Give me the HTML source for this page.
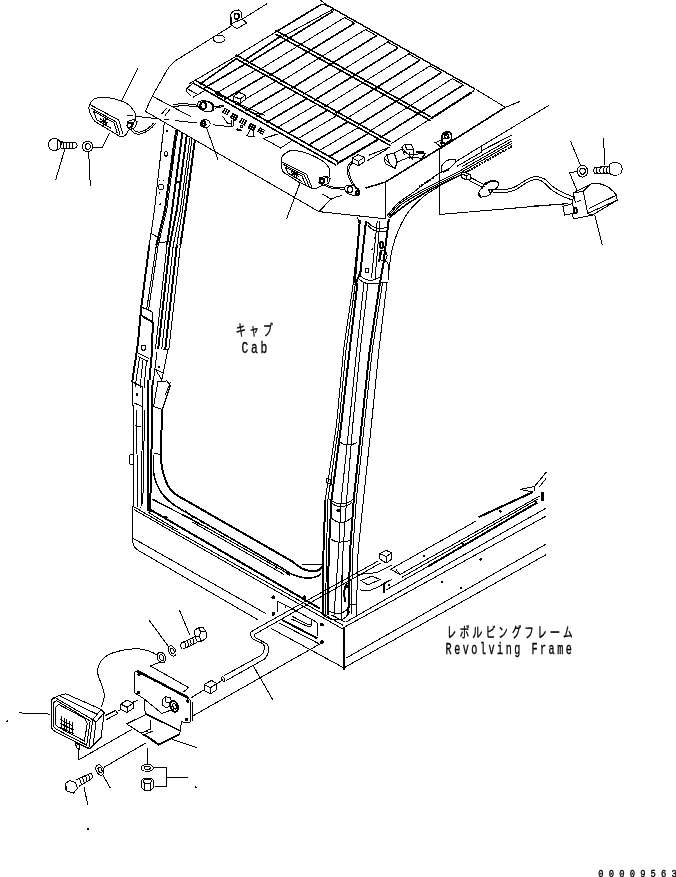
<!DOCTYPE html>
<html lang="ja"><head><meta charset="utf-8"><title>Cab lamp wiring diagram</title>
<style>
html,body{margin:0;padding:0;background:#fff;}
body{width:676px;height:877px;overflow:hidden;}
svg{display:block;will-change:transform;}
svg text{fill:#000;}
.lbl{font-family:"Liberation Mono","IPAGothic",monospace;}
.jp{font-family:"Liberation Mono","IPAGothic","Noto Sans CJK JP",monospace;}
</style></head><body>
<svg width="676" height="877" viewBox="0 0 676 877" shape-rendering="crispEdges">
<rect x="0" y="0" width="676" height="877" fill="#fff" stroke="none"/>
<g fill="none" stroke="#000" stroke-width="1">
<!-- left roof lamp, bolt, washer -->
<polyline points="137.7,68.3 121.8,100.4"/>
<path d="M89.7,104.5 C91,100.5 94,98.5 98,97.6 C103,96.4 110,97 122.8,101.4 C128,103.5 131,106.5 133.5,110.5 C135.5,113.5 136.3,116 135.6,118.5 L134.2,121.5 L126,134.5 C124.5,136.3 122,136.8 119.7,136.2 L111.4,131.4 L95.9,122.1 C93,120 91.5,117 90,113 C88.6,109.5 88.5,107 89.7,104.5 Z"/>
<polyline points="89.7,104.5 118.7,120 122.8,133.5"/>
<polyline points="91.2,108.2 116,121.8 120,134.5"/>
<polyline points="93.5,111 113.8,122.6 117.2,133"/>
<polyline points="93.5,111 96.5,119.5 111.4,128.5"/>
<polyline points="100,118.5 107,124.5"/>
<polyline points="100,123 107,119.5"/>
<polyline points="103,117.5 103,125.5"/>
<polyline points="105,118 105,126"/>
<polyline points="99.5,121 108,122.5"/>
<path d="M127.5,121.5 L134,119.5 L137,121.5 L135.5,127.5 L129.5,129.5 L127,126 Z"/>
<polyline points="129.5,123.5 133.5,122.5 132.5,127.5"/>
<ellipse cx="129.3" cy="125.5" rx="2.2" ry="2.6" stroke-width="1.2"/>
<path d="M131,129.5 C133,133.5 137,135 142,133.5 C148,131.5 152,128 155.5,123.5"/>
<path d="M132.5,128 C134.5,131.5 138,132.8 142,131.6 C147,129.8 150.5,127 153.8,122.8"/>
<path d="M60.3,141.8 L58,139.3 C55,138 51.5,138.3 49.8,140.8 C48,143.5 48.2,147 50.2,149 C52,150.5 55.5,150.6 58,149.5 L60.3,148 Z"/>
<polyline points="57.5,139.5 57.5,149.5"/>
<polyline points="60.3,141.8 75.5,142.8"/>
<polyline points="60.3,148 75,148.2"/>
<path d="M75.5,142.8 C77.5,143.5 78,146.5 75,148.2"/>
<path d="M62.2,142.2 C64.4,143.5 64.60000000000001,146.5 62.800000000000004,148.1"/>
<path d="M65.2,142.2 C67.4,143.5 67.60000000000001,146.5 65.8,148.1"/>
<path d="M68.2,142.2 C70.4,143.5 70.60000000000001,146.5 68.8,148.1"/>
<path d="M71.2,142.2 C73.4,143.5 73.60000000000001,146.5 71.8,148.1"/>
<polyline points="58.5,139.6 61.5,141.9 60.6,148.5"/>
<polyline points="64.8,149 55.5,180.5"/>
<ellipse cx="87.6" cy="146.5" rx="5.2" ry="5.4"/>
<ellipse cx="87.8" cy="146.5" rx="2.6" ry="2.8"/>
<polyline points="92.8,147.4 102.1,148 109.4,132.9"/>
<polyline points="88.7,152.1 90.3,185.7"/>
<!-- roof outline -->
<path d="M267.2,3.6 L175.5,60.7 C170,64.5 166,71 162.2,78.8 L152.3,96 L145.4,111.3"/>
<polyline points="145.4,111.3 318.8,211.6"/>
<polyline points="318.8,211.6 385.4,218.8"/>
<path d="M318.8,211.6 L331,199.2 C335,197 338,196.3 342.1,195.5"/>
<polyline points="152.3,96.2 191,116.6"/>
<polyline points="161.5,114.3 166.6,108.1"/>
<polyline points="164.9,115.5 170,109.5"/>
<polyline points="385.4,182.1 385.4,218.8" stroke-width="1.6"/>
<polyline points="365.4,188.1 385.4,182.1" stroke-width="1.6"/>
<polyline points="385.4,182.1 439.5,148.5" stroke-width="1.6"/>
<polyline points="437,150.5 505.4,107.3" stroke-width="1.6"/>
<polyline points="505.4,107.3 519.8,101.5"/>
<polyline points="476,89.5 505.4,107.3"/>
<ellipse cx="219.2" cy="38.8" rx="5.9" ry="3.8"/>
<path d="M230.3,24.4 L230.3,16.3 C230.5,13.5 232,11.8 234,11.1 C235.5,10.2 237,9.9 238.5,10 C240.3,10.5 241.2,11.8 241.4,13.3 L242.2,19.2 L246.6,22.9 L237,28.8 Z" fill="#fff"/>
<polyline points="231.8,24.6 231.8,16.8"/>
<polyline points="230.3,24.4 241.4,19.2"/>
<ellipse cx="236.7" cy="16.3" rx="2.4" ry="2.8" stroke-width="1.6"/>
<!-- roof slat panel -->
<polyline points="189.3,83.7 235.5,56.6 275.4,32.2"/>
<polyline points="275.4,32.2 321,4.6" stroke-width="1.6"/>
<path d="M321.0,4.6 Q322.4,3.6 328.7,6.1" stroke-width="1.6"/>
<polyline points="328.7,6.1 473.7,88.2" stroke-width="1.4"/>
<path d="M473.7,88.2 Q476,89.5 471.5,92.4"/>
<polyline points="471.5,92.4 430.6,118.8" stroke-width="2"/>
<polyline points="430.6,118.8 390.7,144"/>
<polyline points="378,139.5 337,163.7" stroke-width="2"/>
<polyline points="369.2,155.1 390,147"/>
<polyline points="367.3,160.8 388,148.5"/>
<polyline points="320,0 327.7,5.5"/>
<polyline points="235.5,54.6 390.7,142" stroke-width="1.6"/>
<polyline points="235.5,58.4 390.7,145.8" stroke-width="1.6"/>
<polyline points="275.4,30.2 430.6,116.8" stroke-width="1.6"/>
<polyline points="275.4,34 430.6,120.6" stroke-width="1.6"/>
<polyline points="195,80 338,161.5" stroke-width="1.6"/>
<polyline points="192.5,82.7 336,165" stroke-width="1.6"/>
<polyline points="203.7,88.4 246.8,63.1" stroke-width="1.6"/>
<polyline points="247.8,63.5 287.7,39 333.3,11.2" stroke-width="1.6"/>
<polyline points="224.2,99.6 266.6,74.7" stroke-width="1.6"/>
<polyline points="269.3,75.7 309.2,51.1 354.5,23.2" stroke-width="1.6"/>
<polyline points="245.4,111.1 287.1,86.6" stroke-width="1.6"/>
<polyline points="291.7,88.2 331.6,63.5 376.5,35.7" stroke-width="1.6"/>
<polyline points="266.4,122.5 307.3,98.4" stroke-width="1.6"/>
<polyline points="313.7,100.6 353.6,75.8 398.2,48" stroke-width="1.6"/>
<polyline points="287.3,133.9 327.6,110.2" stroke-width="1.6"/>
<polyline points="335.8,113.1 375.7,88.1 419.9,60.2" stroke-width="1.6"/>
<polyline points="308.2,145.3 347.8,121.9" stroke-width="1.6"/>
<polyline points="357.8,125.5 397.7,100.4 441.6,72.5" stroke-width="1.6"/>
<polyline points="329.1,156.6 368,133.7" stroke-width="1.6"/>
<polyline points="379.8,137.9 419.7,112.7 463.3,84.8" stroke-width="1.6"/>
<polyline points="199.8,84.2 237.6,57.8" stroke-width="1.6"/>
<polyline points="243.3,61 281.6,35.7" stroke-width="1.6"/>
<polyline points="214.5,94.3 257.2,69.2"/>
<polyline points="259.1,69.9 299,45.4 345.4,17"/>
<polyline points="234.8,105.3 276.8,80.6"/>
<polyline points="280.5,81.9 320.4,57.3 366.5,28.9"/>
<polyline points="256.2,116.9 297.5,92.7"/>
<polyline points="303,94.6 342.9,69.9 388.6,41.4"/>
<polyline points="276.5,128 317.2,104.1"/>
<polyline points="324.4,106.7 364.3,81.8 409.7,53.3"/>
<polyline points="297,139.2 337,115.6"/>
<polyline points="346,118.8 385.9,93.9 430.9,65.3"/>
<polyline points="318.7,150.9 357.9,127.8"/>
<polyline points="368.8,131.7 408.7,106.6 453.3,78"/>
<polyline points="344.5,17.5 354.5,23.2"/>
<polyline points="365.5,29.5 376.5,35.7"/>
<polyline points="387.7,42 398.2,48"/>
<polyline points="408.7,53.9 419.9,60.2"/>
<polyline points="430,65.9 441.6,72.5"/>
<polyline points="452.4,78.6 463.3,84.8"/>
<polyline points="332.9,9.3 333.3,11.2"/>
<polyline points="332.9,9.3 282.8,36.4"/>
<!-- panel front-left cap and lip -->
<path d="M193.5,82.6 L186.8,88.5 C185.5,90 186,91.5 187.6,92.2 L190.5,95.9"/>
<polyline points="192.8,97.4 204.6,90.7"/>
<polyline points="186.8,88.5 197,94"/>
<polyline points="215,92.2 222.3,95.9"/>
<polyline points="216.5,94.5 223,97.5"/>
<polyline points="214,90.5 221,93.5"/>
<polyline points="240,104.4 265,115.5"/>
<polyline points="255.4,113.2 263.5,115.2"/>
<polyline points="277.7,134 263.7,138.5 280.7,148.1 291.8,140.7"/>
<!-- cube 1 -->
<path d="M233.4,96.4 L239,92.3 L245.4,95.2 L245.4,99.5 L240,103.3 L233.4,100.7 Z" fill="#fff"/>
<polyline points="233.4,96.4 240,99 245.4,95.2"/>
<polyline points="240,99 240,103.3"/>
<polyline points="231,102 233.4,100.7"/>
<!-- grommets on front face -->
<ellipse cx="205.6" cy="106.2" rx="8.5" ry="5" transform="rotate(20 205.6 106.2)"/>
<ellipse cx="203.3" cy="105.6" rx="3" ry="3.6" stroke-width="2"/>
<path d="M208,101.5 C212,102.5 214.5,106 213,110.5" stroke-width="2"/>
<polyline points="172.8,105 182.2,103.3 197.2,105.2"/>
<polyline points="173.5,107 182.2,105.3 197.9,107"/>
<polyline points="214.2,107 223.8,105.2"/>
<polyline points="214.5,108.3 224,106.5"/>
<ellipse cx="205.3" cy="123.6" rx="4.9" ry="3.9"/>
<ellipse cx="203.3" cy="123.4" rx="2" ry="2.4" stroke-width="2"/>
<polyline points="206.8,128.4 218.1,160.3"/>
<polyline points="136.3,116.4 233.4,127" stroke-dasharray="23 5 4.5 6"/>
<polyline points="126.7,115.4 132.6,116"/>
<!-- decals -->
<polyline points="224.4,108 230,111.2"/>
<polyline points="223.3,109.9 228.9,113.1"/>
<polyline points="222.2,111.8 227.8,115"/>
<polyline points="225.1,107.9 222.7,112.5"/>
<polyline points="227.3,109.2 224.9,113.8"/>
<polyline points="229.5,110.5 227.1,115.1"/>
<polyline points="232.4,113.4 238,116.6" stroke-width="1.7"/>
<polyline points="231.3,115.3 236.9,118.5" stroke-width="1.7"/>
<polyline points="230.2,117.2 235.8,120.4" stroke-width="1.7"/>
<polyline points="233.1,113.3 230.7,117.9" stroke-width="1.7"/>
<polyline points="235.3,114.6 232.9,119.2" stroke-width="1.7"/>
<polyline points="237.5,115.9 235.1,120.5" stroke-width="1.7"/>
<polyline points="241.4,118.1 247,121.3"/>
<polyline points="240.3,120 245.9,123.2"/>
<polyline points="239.2,121.9 244.8,125.1"/>
<polyline points="242.1,118 239.7,122.6"/>
<polyline points="244.3,119.3 241.9,123.9"/>
<polyline points="246.5,120.6 244.1,125.2"/>
<polyline points="250.3,123.5 255.9,126.7" stroke-width="1.7"/>
<polyline points="249.2,125.4 254.8,128.6" stroke-width="1.7"/>
<polyline points="248.1,127.3 253.7,130.5" stroke-width="1.7"/>
<polyline points="251,123.4 248.6,128" stroke-width="1.7"/>
<polyline points="253.2,124.7 250.8,129.3" stroke-width="1.7"/>
<polyline points="255.4,126 253,130.6" stroke-width="1.7"/>
<polyline points="259.6,127.5 265.2,130.7"/>
<polyline points="258.5,129.4 264.1,132.6"/>
<polyline points="257.4,131.3 263,134.5"/>
<polyline points="260.3,127.4 257.9,132"/>
<polyline points="262.5,128.7 260.1,133.3"/>
<polyline points="264.7,130 262.3,134.6"/>
<polyline points="222.3,115.9 227.5,123.3 230.5,123.3"/>
<polyline points="231.5,119.6 231.5,126.2"/>
<polyline points="233,119.6 233,126.2"/>
<polyline points="236.4,129.2 241.6,130.6" stroke-width="2"/>
<ellipse cx="241.5" cy="126.5" rx="1.2" ry="1.2"/>
<path d="M246,135 C249,137 252,137.3 255,136.6"/>
<polyline points="250,130 247.5,135.5"/>
<polyline points="253,131 254,136.5"/>
<!-- center roof lamp -->
<path d="M281.1,161.1 C281.5,157 283,154.5 285.5,153.3 C288,151 291,150.2 294.4,150.4 C300,150.8 305,152.3 310,154.4 C316,157 322,160 325.5,163.3 C328.5,166.5 330.3,170 330,173.3 L328.8,177.7 C326,182 322,186.5 315.5,188.8 L311,188.1 L298.8,182.1 L283.3,172.2 C281.5,169 280.8,165 281.1,161.1 Z" fill="#fff"/>
<polyline points="281.1,161.6 306.6,174.4 312.2,188.1"/>
<polyline points="283.5,164.5 304.5,175.4 309.5,187.3"/>
<path d="M285.5,167 L302,176 L306,185.5 M285.5,167 L287.5,172.8 L302,181.5"/>
<polyline points="291,170.5 299,176.5"/>
<polyline points="291.5,175 298.5,171.5"/>
<polyline points="294,169.5 294,177"/>
<polyline points="296.5,171 296.5,178.5"/>
<polyline points="290.5,172.7 300,175"/>
<path d="M319.5,178 L326,176 L330,178.5 L328.5,183.5 L322.5,185.5 L319,182.5 Z" fill="#fff"/>
<ellipse cx="322" cy="181.2" rx="2" ry="2.4" stroke-width="2"/>
<polyline points="323.5,178.3 327.5,177.3 328,182"/>
<polyline points="322.1,193.9 330.5,198.8"/>
<polyline points="300,182.8 286.6,218.8"/>
<path d="M324.4,185 C328,187.5 332,188.8 337,188.9 L345.4,189.2"/>
<path d="M326.5,184.5 C329,186.3 333,187.4 337,187.5 L345.4,187.8"/>
<ellipse cx="352.3" cy="190.4" rx="8" ry="4.6" transform="rotate(22 352.3 190.4)"/>
<ellipse cx="350" cy="189.5" rx="2.6" ry="3"/>
<path d="M355.5,187.5 C359,189 360,192.5 357.6,195.2" stroke-width="2"/>
<ellipse cx="357.3" cy="193" rx="1.5" ry="2.2" stroke-width="2"/>
<path d="M353.2,186.4 C351.5,182 348.5,178 347.7,174 C347,170 347,167.5 348.5,165 C349.8,163 351.5,161.8 353.2,161"/>
<path d="M354.8,186.2 C353,182 350,178 349.2,174 C348.6,170 348.6,168 350,165.8 C351,164.2 352.5,163 354,162.3"/>
<!-- cube 2 -->
<path d="M352.2,158.3 L358,154.6 L364.2,157.3 L364.2,161.8 L358.6,165.6 L352.2,162.8 Z" fill="#fff"/>
<polyline points="352.2,158.3 358.6,161.2 364.2,157.3"/>
<polyline points="358.6,161.2 358.6,165.6"/>
<!-- horn -->
<path d="M384.2,158.3 L386.8,154.6 L394.2,153.1 L397.2,162 L395,168.6 L385.4,163.5 Z" fill="#fff"/>
<polyline points="386.8,154.6 389.5,163.5 395,168.6"/>
<polyline points="389.5,163.5 384.2,158.3"/>
<polyline points="394.2,153.1 402.4,148.7"/>
<polyline points="397.2,162 410.5,156.8"/>
<path d="M401.6,147.2 L404.6,144.5 L411.2,144.5 L413.5,149.4 L412.7,159.8 L410.5,156.8 Z" fill="#fff"/>
<polyline points="401.6,147.2 404.5,155.5"/>
<polyline points="403.8,151.6 409.5,154.6 413,154.6"/>
<polyline points="409.5,151.5 409.5,158.5"/>
<polyline points="404.6,144.5 407,149.5 413.5,149.4"/>
<polyline points="415.7,151.6 423.8,151.6" stroke-width="2"/>
<polyline points="412.7,154.6 426,153.1 421.6,158.3 412.7,157.2"/>
<!-- hook 2 -->
<path d="M435.4,142.6 L440.8,147 L452.4,139.6 L448.5,136.6 Z" fill="#fff"/>
<path d="M441.2,143.5 L441.6,137 C442.5,133.8 444.5,132 447.2,131.6 C449.5,131.8 451,133 451.3,135 L451.6,139.2 L446,143.6 Z" stroke-width="1.6" fill="#fff"/>
<ellipse cx="446.5" cy="136.2" rx="2.2" ry="2.4" stroke-width="1.6"/>
<polyline points="441.2,146.6 443,137.5" stroke-width="1.6"/>
<polyline points="439.5,140.5 447,143.8"/>
<polyline points="443.6,134 449.8,137.6"/>
<!-- right side face -->
<path d="M548.7,105.5 L474.9,150 L455.7,161.8 C448,167 441,172 435,176 C428,181 421,186.5 414.4,191.5 C409,195.5 404,198.5 399.6,201.8 C396.5,204.5 394,207 392.2,209.5 L387,215.9"/>
<path d="M441.8,172 L441.1,166.8 C443,163.5 445.5,161 447.8,160.1 L455.1,159.1 L455.9,162.3 C453,165.5 449,169 444.5,171.8 Z" fill="#fff"/>
<polyline points="442.5,172.2 449.2,169.2" stroke-width="2"/>
<polyline points="512.1,135 481.8,150.5"/>
<polyline points="481.8,146.8 481.8,152.2"/>
<polyline points="481.8,152 457,166.3"/>
<polyline points="511.4,138.7 462,166.5"/>
<path d="M512.1,140.9 L458.8,171.5 C445,178.5 431,185 418.8,191.8 C411,196.3 405,199.8 400,203.3 C397,205.8 394.8,208.3 393,210.8 L388,217"/>
<path d="M512.1,143.2 L460,173 C446,180 432,186.5 420,193.3 C412,197.8 406,201.3 401,204.8 C398,207.3 395.8,209.8 394,212 L389,218"/>
<polyline points="512,146.2 470,170" stroke-width="2" stroke-dasharray="2 1"/>
<path d="M470,170 L458.8,175.8 L429.2,190.2 L408.5,203 L396.6,211.8 L389.2,217.8" stroke-width="1.6"/>
<polyline points="419,187 433.5,177.5" stroke-width="2" stroke-dasharray="2 1"/>
<path d="M441,185.5 L429.2,192.3 C424.5,195.5 420.5,199 417.3,202.1 C414,205 411,208.5 408.5,211.8 C405.5,216 403,220 401.1,224.3 C398.5,229.5 396.5,234.5 395.1,239.1 C393,245 391.6,251 390.7,256.8 C389.5,264 388.8,270 388.3,277.5"/>
<polyline points="439.2,149.8 439.2,214.5 563.7,203.9"/>
<polyline points="530,206.3 568.2,203.7"/>
<!-- connector + grommet right -->
<path d="M461,173.4 L462.5,171.8 L470,174.2 L470,179.3 L466.2,180 L461,177.1 Z" fill="#fff"/>
<polyline points="461,173.4 466.2,175.8 470,174.2"/>
<polyline points="466.2,175.8 466.2,180"/>
<polyline points="470.5,177.5 483.4,184.1"/>
<polyline points="469,180.5 481.6,186.7"/>
<path d="M481.6,188 L484.3,184 L490.5,181.4 L495.8,181 C498,181.8 498.8,183 498.5,184.5 C498,186.5 497.5,187.5 496.7,188 L492,190.5 L491.4,191.6 C491,193.5 490,194.8 488.7,195.6 L480.7,197.4 C479,197 478.3,195.5 478.5,193.4 C479,191 480,189.3 481.6,188 Z" fill="#fff"/>
<polyline points="484.3,184 490.5,181.4 495.8,181" stroke-width="2"/>
<polyline points="481.8,188.5 486.5,183.5" stroke-width="2" stroke-dasharray="1.5 1"/>
<polyline points="479,193.5 480.8,197" stroke-width="1.6"/>
<polyline points="488.5,189.2 492,190.5"/>
<polyline points="488.5,189.2 490,193"/>
<path d="M491,189 C500,190.5 508,189.5 513.2,187.6 C520,185 524,180 531,177.6 C536,176 540,176.3 544.2,178.8 C548,181 550,184 553.1,186.8 C559,191 566,194 572.6,196.6"/>
<path d="M491.8,191.8 C500,194 508,192.5 514,190.4 C521,187.5 525,182.5 532,180.2 C536,179 539,179.3 542.5,181.5 C546,184 548,187 551.5,189.8 C557,194 565,197.5 571.5,199.8"/>
<!-- right lamp -->
<polyline points="570.5,141 580.6,165.5"/>
<polyline points="603.7,138 604.6,165.5"/>
<ellipse cx="582.4" cy="171.2" rx="5.3" ry="5.9"/>
<ellipse cx="582.6" cy="171.2" rx="2.7" ry="3.1"/>
<path d="M609.9,166.4 L609.9,173.5 L595,173.5 C593.3,172.5 593.3,168.3 595,167.3 Z"/>
<path d="M598.0999999999999,167 C595.6999999999999,168.5 595.6999999999999,172 597.6999999999999,173.5"/>
<path d="M601.5999999999999,167 C599.1999999999999,168.5 599.1999999999999,172 601.1999999999999,173.5"/>
<path d="M605.0999999999999,167 C602.6999999999999,168.5 602.6999999999999,172 604.6999999999999,173.5"/>
<path d="M608.3,167 C605.9,168.5 605.9,172 607.9,173.5"/>
<path d="M609.9,164.2 C612,162.3 616,161.8 619,163.3 C622,165 623,169 621.5,172 C620,174.8 616,175.6 613,175 C611.5,174.7 610.5,174.3 609.9,173.5 Z"/>
<polyline points="577,171.7 569.4,172.6 577,190.4"/>
<path d="M573.5,193 L583.3,191.2 L590.4,184.1 C594,183.2 598,183.2 601,184.1 C604,185 607,186.3 609,187.7 C612,190 614.5,192.3 616.1,194.8 L617.3,200.1 L592.1,215.2 L573.5,218.8 L572,213.4 Z" fill="#fff"/>
<polyline points="583.3,191.2 587.7,213.4 617.3,200.1"/>
<polyline points="588.6,208.6 616.1,195.3"/>
<polyline points="587.7,213.4 592.1,215.2"/>
<polyline points="573.5,193 575.5,203"/>
<polyline points="573.5,193 590.4,184.1"/>
<path d="M562.8,206.3 L572.6,203.7 L574,213 L564.6,215.2 Z" fill="#fff"/>
<ellipse cx="575.3" cy="210.8" rx="1.6" ry="2.6" stroke-width="2"/>
<polyline points="577,201.9 580.6,200.1"/>
<polyline points="594.8,215.4 602.4,245.4"/>
<!-- left front pillar -->
<polyline points="164.3,122.2 162.3,140 154.5,210 149.3,245"/>
<polyline points="149.3,245 141.3,307.1 137.8,344.4 132.2,381.8" stroke-width="2"/>
<polyline points="176.3,130 174.7,140 164.9,210 156.4,245" stroke-width="2"/>
<polyline points="156.4,245 146.6,309.8"/>
<polyline points="178,130.5 176.2,140 166.7,210 158.2,245 148.4,311"/>
<polyline points="182.4,132.8 181.4,140 172.1,210 167,245" stroke-width="2"/>
<polyline points="167,245 155.5,349"/>
<polyline points="186.7,135.3 186.1,140 176.8,210 169.7,245 158.2,349" stroke-width="2"/>
<polyline points="190.1,137.2 189.7,140 180.4,210 173.3,245 161.8,349"/>
<polyline points="192.1,138.4 191.8,140 182.5,210 176.8,245"/>
<polyline points="176.8,245 165.3,349" stroke-width="2"/>
<polyline points="195.1,140.1 194.9,140 185.6,210 180.4,245" stroke-width="2"/>
<polyline points="180.4,245 168.9,349"/>
<polyline points="175.7,181.4 179.9,182.5" stroke-width="2"/>
<circle cx="166.9" cy="131.3" r="1" fill="#000" stroke="none"/>
<ellipse cx="166" cy="153.8" rx="1.3" ry="2.4"/>
<ellipse cx="161.1" cy="187" rx="2.6" ry="3"/>
<circle cx="160.2" cy="204.4" r="1" fill="#000" stroke="none"/>
<polyline points="159.5,180.5 160.5,181.5"/>
<polyline points="163.3,181.3 164,180.3"/>
<polyline points="159,192.5 160,193.5"/>
<polyline points="150.4,232.8 157.5,237.3 156.5,246"/>
<polyline points="159.3,242.6 167.3,241.7"/>
<polyline points="141.3,307.1 152,311.6 152.8,322.2"/>
<polyline points="142.2,316 152.8,322.2" stroke-width="2"/>
<polyline points="152.8,322.2 152,351.5 149.5,380" stroke-width="2"/>
<polyline points="141,318 137.8,344.4"/>
<ellipse cx="143.6" cy="347.6" rx="2.4" ry="2.6"/>
<polyline points="138.6,353.3 149.3,358.6"/>
<polyline points="138.3,356.8 148.5,361.5"/>
<polyline points="139.5,358 135.1,387"/>
<polyline points="143,360 140,388"/>
<polyline points="146.5,361 144,388"/>
<polyline points="162.6,349.7 168,349.7 161.7,380 155.5,369.3"/>
<polyline points="155.5,369.3 162.6,372.8"/>
<circle cx="159" cy="367" r="1" fill="#000" stroke="none"/>
<polyline points="157,352 153.5,380"/>
<path d="M132.2,381.8 L132.2,403 L134,408.4 L133,433.3 L133,506"/>
<polyline points="132.2,381.8 142.8,387.1 142.8,406.6 134,403"/>
<circle cx="137" cy="394.6" r="1.5" fill="#000" stroke="none"/>
<polyline points="129.9,454.6 129.9,464.3"/>
<polyline points="129.9,454.6 133,454.6"/>
<polyline points="129.9,464.3 133,464.3"/>
<polyline points="136.6,410.2 137.5,507"/>
<polyline points="142.8,406.6 141,507.8"/>
<polyline points="144.6,410.2 142.8,504.3"/>
<polyline points="148.2,380 148.2,511.4" stroke-width="2"/>
<polyline points="152.6,380 151.2,468.8 150,512" stroke-width="2"/>
<polyline points="134.9,425.3 141,427"/>
<polyline points="153.5,452.8 160.6,454.6"/>
<path d="M157.9,381.8 L166.8,380.9 L170.4,385.3 L162.4,409.3 L153.5,406.6 Z"/>
<polyline points="170.6,381.7 165.3,395"/>
<!-- door opening curves -->
<path d="M162.4,409.3 L160.6,451 C160.8,460 161.5,466 163,472 C164.5,478 166,482 168,486 C171,491 176,495.5 184,499.3 L293.1,561.9 C297,565.5 301,568.3 305.1,569.8 C309,571 313.5,571.3 317.1,570.6 C320,569.5 321.8,567.8 322.4,565.8" stroke-width="2"/>
<path d="M153.5,454.6 L153.5,472 C154.5,478 155.5,482 157.9,486.5 C160.5,492 164,496.5 168.6,500.7 C173,504.5 179,508.5 186.6,512.6 L285.1,569.8 C289,573 294,575.5 298.4,576.5 C303,577.8 308,578.3 311.8,577.8 C316,577 319.5,575.7 321.1,573.8" stroke-width="1.6"/>
<polyline points="301.8,564.4 322.5,564.4"/>
<polyline points="275,566.5 277,568.5" stroke-width="1.6"/>
<polyline points="286.5,573 290,575.5" stroke-width="1.6"/>
<!-- sill -->
<polyline points="152.6,498.9 202.3,525.6"/>
<polyline points="149.8,509.5 160,515.3 319.7,608.4" stroke-width="2"/>
<polyline points="151.9,499.3 192,519.3 288,573.5"/>
<polyline points="192,521.8 284,574.5"/>
<polyline points="148.2,512.3 177.5,530"/>
<circle cx="165.9" cy="517.6" r="1.8" fill="#000" stroke="none"/>
<polyline points="185,510.7 193.3,518"/>
<polyline points="201.6,522.1 204.7,524.2"/>
<!-- cab floor frame left face -->
<path d="M132.9,506.2 L132.9,541.8 C133,546 135,548.5 138.5,550.5 L258.1,619.9"/>
<polyline points="132.9,506.2 160,522 325,615 343.5,625.5"/>
<polyline points="134.3,509.8 343.5,629.5"/>
<polyline points="132.9,538.2 266.1,613.7"/>
<polyline points="271,628.4 343.5,667.7"/>
<polyline points="344.2,627.3 344.2,670" stroke-width="2"/>
<polyline points="345.6,622.2 546.4,507.9"/>
<polyline points="344.2,627.3 546.4,515.9"/>
<polyline points="345.6,658.4 546.4,543.9"/>
<polyline points="344.2,667.7 546.4,554.5"/>
<polyline points="345.6,622.2 331.5,615"/>
<!-- plate on frame face -->
<circle cx="273.3" cy="597.2" r="1.9" fill="#000" stroke="none"/>
<circle cx="273.3" cy="614" r="1.9" fill="#000" stroke="none"/>
<circle cx="321.9" cy="624.7" r="1.9" fill="#000" stroke="none"/>
<circle cx="321.9" cy="642.2" r="1.9" fill="#000" stroke="none"/>
<circle cx="304.6" cy="597.2" r="1.9" fill="#000" stroke="none"/>
<path d="M277.3,612.3 L277.3,601 L285.3,605 L313.3,620.3 C316,621.5 317.5,623 317.9,624.9 L317.9,636.3"/>
<polyline points="285.3,605 285.3,607.6"/>
<polyline points="292,616.3 307.9,624.3 311.3,625 311.9,620.3"/>
<polyline points="291.3,619 307.3,626.3 311.3,626.5"/>
<polyline points="282,619.9 317.2,638.3" stroke-width="2"/>
<polyline points="279.3,623 318.6,643.6"/>
<!-- harness wire from cube 3 -->
<path d="M378.5,560.8 L254.7,629.6 C251.5,631.3 250,632.5 250.3,634.1 C250.5,636.3 251.5,638 253.3,639.2 L262.9,643.7 C264.5,645.5 264.8,647.5 264.3,649.6 C263.8,652.5 262.5,654.3 260.7,655.5 L224.4,675.5"/>
<path d="M381,562.8 L257.7,632.6 C255.5,633.5 254.3,634 254,634.8 C254.3,636.5 255.5,637.8 257,638.5 L266.6,643.7 C268.3,645.5 269,647.5 268.8,649.6 C268.3,654 266.8,657 264.3,659.2 L225.9,680.7"/>
<polyline points="253.3,665.9 273.2,700.6"/>
<!-- cube 3 -->
<path d="M379.9,553.7 L386.2,550.5 L391.8,552.8 L391.8,559 L386.2,563.1 L379.9,559 Z" fill="#fff"/>
<polyline points="379.9,553.7 386.2,556.7 391.8,552.8"/>
<polyline points="386.2,556.7 386.2,563.1"/>
<!-- right sill and side -->
<polyline points="546.4,472 534.4,486.6 534.4,490.5"/>
<polyline points="546,478.5 539.5,486.8"/>
<polyline points="533.1,492 478.5,517.2" stroke-width="2"/>
<polyline points="475.8,521.2 390.6,569.2"/>
<polyline points="533.1,492 520,489.5 534.4,486.6"/>
<polyline points="539.7,496 400,574.5"/>
<polyline points="538,499 402,577.3"/>
<polyline points="537.1,502.6 427.9,566.5" stroke-width="2"/>
<polyline points="427.9,566.5 386,590"/>
<polyline points="542.4,492 542.4,501.3" stroke-width="3"/>
<polyline points="390.6,569.2 400,574.5 396,569.5"/>
<polyline points="384,583.8 384,593" stroke-width="2"/>
<polyline points="384,583 392,579.5"/>
<circle cx="423.9" cy="555.8" r="1.3" fill="#000" stroke="none"/>
<circle cx="463" cy="543.9" r="1.3" fill="#000" stroke="none"/>
<circle cx="500.3" cy="511.4" r="1.3" fill="#000" stroke="none"/>
<circle cx="480.6" cy="559.3" r="1.3" fill="#000" stroke="none"/>
<circle cx="441.8" cy="582" r="1.3" fill="#000" stroke="none"/>
<circle cx="461.2" cy="588.3" r="1.3" fill="#000" stroke="none"/>
<circle cx="389.3" cy="585.1" r="1.3" fill="#000" stroke="none"/>
<circle cx="535.8" cy="502" r="1.3" fill="#000" stroke="none"/>
<!-- right (center) pillar -->
<polyline points="353.3,283 343.6,350 336.5,424.6 325.3,500"/>
<polyline points="325.3,500 323.5,551 322.6,615" stroke-width="2"/>
<polyline points="355.5,283 346,350 338.9,424.6 327.9,500 326.5,551 325.5,615"/>
<polyline points="357.5,283 349.6,350 341.2,424.6 331.5,500 328.8,551 327.6,615" stroke-width="2"/>
<polyline points="364,283 356.7,350 349.2,424.6 341.2,500 338.6,551 334,615"/>
<polyline points="368,283 360.2,350 352.8,424.6 346.6,500 343,551 341,615"/>
<polyline points="379.9,283 369.7,350 361.7,424.6 353.7,500 350.1,551 348.3,615" stroke-width="2"/>
<polyline points="382.5,283 372.3,350 364.3,424.6 356.3,500 352.8,551 351,615"/>
<polyline points="387,283 378.9,350 371.4,424.6 363.4,500 358.1,551 356.3,615"/>
<path d="M357.7,217.4 C358,220 358.8,222.5 359.5,224.5 L353.3,283.1"/>
<polyline points="359.8,220.2 358.2,240 354.8,283.1" stroke-width="2"/>
<polyline points="366,221 360.4,272.5 355,284.9" stroke-width="2"/>
<polyline points="388.8,219.2 383.4,263.6 379.9,283.1" stroke-width="2"/>
<polyline points="377.2,221 371.5,278"/>
<polyline points="380,221 375,279"/>
<path d="M367.5,222 C370,225.5 375,228 380,228.5 L388,227.5"/>
<path d="M368,225.5 C371,229.5 376,231.5 381,232 L388,231"/>
<circle cx="374.6" cy="237.8" r="1" fill="#000" stroke="none"/>
<circle cx="372.4" cy="249.4" r="1" fill="#000" stroke="none"/>
<path d="M365.6,268.8 L368.6,268.8 L368.6,272 L365.6,272 Z"/>
<path d="M359.5,275.1 C363,278.5 367,280.5 371,280.4 C375,280 378,278.5 379.9,276.9"/>
<path d="M358.6,278.7 C362,282 367,284 371,284 C376,283.6 382,283 387.9,282.2"/>
<ellipse cx="381.7" cy="245" rx="1.8" ry="2.8" stroke-width="2"/>
<ellipse cx="383.1" cy="255.6" rx="4" ry="5.5"/>
<path d="M383.4,261 C386,260.5 388,262 388.2,265 L388.2,279.6"/>
<polyline points="381.5,250 379,262" stroke-width="2"/>
<path d="M338.6,441.4 C342,444 345,445 348.3,445 C352,444.8 355,443.8 357.2,442.3"/>
<path d="M327.9,497.8 C332,502 337,504 342.1,504 C347,503.8 351,501.5 354.6,497.8"/>
<path d="M331.5,503 C335,506 338.5,507 342.1,506.6 C346,506 350,504.5 351.9,502.2"/>
<path d="M331.5,518.2 C335,521.5 338.5,522.8 342.1,522.6 C346,522.2 349,520 351,518.2"/>
<path d="M330.6,538.6 C334,541.5 337,542.3 340.4,542.1 C344,541.8 348,541 351,540.4"/>
<circle cx="338.2" cy="510.5" r="1.9" fill="#000" stroke="none"/>
<path d="M326.5,478.7 L331.5,480 L331.5,484 L326.5,482.5 Z"/>
<path d="M322.6,614.4 C326,617.5 330,619.5 334,620 L341,619.8 C345,618.5 348,615.5 350,611"/>
<path d="M327,609 C330,612.5 335,614 341,613 C345,612 347,610 348.5,607.3"/>
<polyline points="341,575 341,619.8"/>
<polyline points="348.3,604.3 356.3,604.3"/>
<path d="M347,583 C344,588 343.5,595 345.5,602" stroke-width="2"/>
<circle cx="347.5" cy="586.5" r="1.4" fill="#000" stroke="none"/>
<path d="M358.1,575 C365,573 372,574 378,572 C383,570 388,567 392,565"/>
<path d="M360,589.5 C364,591.5 370,591 376,588 L392,579.5"/>
<path d="M361,580.5 L372,576 L380,579.5 L368,585 Z"/>
<!-- work lamp lower-left -->
<polyline points="19.3,712.9 50.4,714.1"/>
<path d="M51.4,700.1 L58.7,695.5 L65.9,693.8 L101.1,709.4 L104.2,712.5 L101.1,737.3 L89.7,748.9 L57,732.5 C53,730.5 51,729 51,726 Z" fill="#fff"/>
<path d="M54.5,697.3 C52.5,698.5 51.2,699.8 51,701.5 L51,726 C51.2,728.5 52.5,730 55,731.3 L88.7,748.7 L92.8,719.7 Z"/>
<path d="M56.5,700.5 C54.5,701.5 53.2,702.8 53,704.5 L53,724.5 C53.2,727 54.5,728.3 57,729.6 L86.7,745.2 L90.2,721 Z"/>
<path d="M58.8,704.5 C57,705.5 55.4,706.5 55.2,708 L55.2,723 C55.4,725 56.5,726.3 59,727.6 L84.3,741 C85.5,735 86.5,729 87.2,723.5 C86.5,720.5 85,718.5 82,716.8 Z"/>
<polyline points="92.8,719.7 101.1,709.4"/>
<polyline points="92.8,719.7 96,722 104,713"/>
<polyline points="96,722 93,746"/>
<polyline points="54.5,697.3 92.8,719.7"/>
<polyline points="58.7,695.5 97.5,714.5"/>
<polyline points="61.2,716.45 61.2,729.21"/>
<polyline points="64,717.85 64,730.386"/>
<polyline points="66.8,719.25 66.8,731.562"/>
<polyline points="69.6,720.65 69.6,732.738"/>
<polyline points="72.4,722.05 72.4,733.914"/>
<polyline points="60.2,719.7 73.6,726.3"/>
<polyline points="60.2,723.4 73.6,730"/>
<polyline points="60.2,727 73.6,733.6"/>
<path d="M75.8,743.2 L79.8,745.2 L79.8,749.3 L76.2,747.5 Z"/>
<polyline points="78.3,749.3 78.3,760.1"/>
<polyline points="78.3,760.1 131.9,729.3"/>
<path d="M101.1,707.3 C103.5,702 104.8,698 104.2,694 C103.5,689 101.5,684 99,678 C96.5,672 97,667 101.1,660.7 C105,656 111,653 117.7,651.4 C124,649.5 130,648.7 136,648.7 C143,648.8 150,650.5 157.2,655.1"/>
<polyline points="105.3,715.6 115.6,710.4"/>
<polyline points="106.3,719.7 117.7,713.5"/>
<polyline points="115.6,710.4 117.7,713.5"/>
<polyline points="117.7,711.4 120.8,709.4"/>
<!-- cube 4 -->
<path d="M120.8,704.2 L127,700 L133.2,703.2 L133.2,708.3 L127,712.5 L120.8,709.4 Z" fill="#fff"/>
<polyline points="120.8,704.2 127,707.3 133.2,703.2"/>
<polyline points="127,707.3 127,712.5"/>
<polyline points="133.2,702.1 138.4,700"/>
<!-- bolt top + washers -->
<polyline points="179.4,610 189.7,634.8"/>
<polyline points="149.3,620.4 169,647.3"/>
<path d="M194,631 L198.5,627.5 L203.5,628 L206.5,632.5 L206,638 L201.5,641.5 L196.5,641 Z"/>
<path d="M198.5,627.5 L200.5,631.5 L205.5,632 M200.5,631.5 L199.5,637 L201.5,641.5 M199.5,637 L194.5,636"/>
<polyline points="181.4,643.1 194.9,636.5"/>
<polyline points="182.5,649.3 197,642.7"/>
<path d="M181.4,643.1 C180,644.5 180.5,648 182.5,649.3"/>
<path d="M184.1,641.8 C185.7,643.3 186.1,646.3 185.2,648.0"/>
<path d="M186.8,640.5 C188.4,642.0 188.8,645.0 187.9,646.7"/>
<path d="M189.5,639.1 C191.1,640.6 191.5,643.6 190.6,645.3"/>
<path d="M192.2,637.8 C193.8,639.3 194.2,642.3 193.3,644.0"/>
<ellipse cx="172.1" cy="651" rx="3.4" ry="5.4" transform="rotate(-25 172.1 651)"/>
<ellipse cx="172.3" cy="651" rx="1.6" ry="2.9" transform="rotate(-25 172.3 651)"/>
<ellipse cx="161.4" cy="657.6" rx="4" ry="5.5" transform="rotate(-25 161.4 657.6)"/>
<ellipse cx="161.6" cy="657.6" rx="2" ry="3.2" transform="rotate(-25 161.6 657.6)"/>
<polyline points="160.7,661.8 150.4,665.9 188.7,687.7 183.5,691.8"/>
<!-- bracket -->
<path d="M135.9,671.1 C134.5,671.8 134.5,673 134.8,674 L134.8,692.8 L144.2,699 L145.2,713.5 L180.4,731.1 L181.4,721.8 L189,722.8 C190.5,722 190.8,720.5 190.8,719 L190.8,702 C190.5,700 190,699.3 188.5,698.5 Z" fill="#fff"/>
<polyline points="137,670.4 189,697.7" stroke-width="1.6"/>
<polyline points="137,671.8 189,699" stroke-dasharray="1 1.5"/>
<polyline points="145.2,713.5 180.4,731.1" stroke-width="2"/>
<polyline points="192.3,701.5 192.3,720.5"/>
<polyline points="144.2,699 161.8,713.5 178.3,707.3"/>
<circle cx="139" cy="674.2" r="1.7" fill="#000" stroke="none"/>
<circle cx="138.6" cy="692.4" r="1.7" fill="#000" stroke="none"/>
<circle cx="187.7" cy="701.1" r="1.7" fill="#000" stroke="none"/>
<circle cx="186.6" cy="719.8" r="1.7" fill="#000" stroke="none"/>
<ellipse cx="174.2" cy="706.3" rx="3.6" ry="5.6" stroke-width="2" transform="rotate(-20 174.2 706.3)"/>
<ellipse cx="174.6" cy="706.3" rx="1.6" ry="3" transform="rotate(-20 174.6 706.3)"/>
<path d="M162,700.3 L165.5,696.8 L170,697.5 L171.5,701 M162,700.3 L162.5,705 L166,707.5 L170,706.5 M165.5,696.8 L166,702 L170,702.8"/>
<path d="M126.6,723.9 L146,714.5 L180.4,731.1 L179.4,734.2 L158.7,744.6 Z" fill="#fff"/>
<polyline points="145.2,735.3 158.7,744.6 179.4,734.2" stroke-width="2"/>
<path d="M141.1,733.2 L150.4,729.1 L150.4,719.5"/>
<polyline points="143.1,735.3 152.5,731.1"/>
<polyline points="146,731 148.5,732.5"/>
<polyline points="172.1,739.4 197,747.7"/>
<polyline points="131.9,729.3 127,732.2"/>
<!-- cube 5 + tube -->
<path d="M204.2,684.5 L211.5,680.4 L216.6,683.5 L216.6,689.7 L210.4,693.9 L204.2,690.8 Z" fill="#fff"/>
<polyline points="204.2,684.5 210.4,687.7 216.6,683.5"/>
<polyline points="210.4,687.7 210.4,693.9"/>
<polyline points="204.2,689.7 190.8,698"/>
<ellipse cx="223.2" cy="679.3" rx="1.2" ry="2.6" transform="rotate(-25 223.2 679.3)"/>
<polyline points="222,680.3 216.6,683.8"/>
<polyline points="191.8,716.5 321.8,642.9"/>
<!-- bolt bottom-left, washers, nut -->
<path d="M65.5,783.5 L69.5,780.5 L75.5,782.5 L77.5,788.5 L73.5,793 L67,791.3 Z"/>
<path d="M65.5,783.5 C64.8,786 65.5,789.5 67,791.3"/>
<polyline points="75.9,779.9 90.6,773.2"/>
<polyline points="78.6,786.6 91.9,778.6"/>
<path d="M90.6,773.2 C92.5,774 93,777 91.9,778.6"/>
<polyline points="79.6,778.2 81.4,784.4"/>
<polyline points="82.5,776.9 84.3,783.1"/>
<polyline points="85.5,775.5 87.3,781.7"/>
<polyline points="88.4,774.2 90.2,780.4"/>
<polyline points="83.9,786.6 87.9,805.2"/>
<ellipse cx="99.9" cy="770" rx="3.6" ry="5.4" transform="rotate(-25 99.9 770)"/>
<ellipse cx="100.1" cy="770" rx="1.7" ry="3" transform="rotate(-25 100.1 770)"/>
<polyline points="102.6,774.6 110.6,788.4"/>
<polyline points="103.9,767.4 146.5,742.6"/>
<ellipse cx="147.3" cy="767.9" rx="6" ry="3.5"/>
<ellipse cx="147.3" cy="767.9" rx="3" ry="1.6"/>
<polyline points="147.3,748 147.3,763.9"/>
<path d="M141.2,780.5 L144,778 L150.5,778 L153.5,780.5 L153.5,787.5 L150.5,790 L144,790 L141.2,787.5 Z"/>
<ellipse cx="147.3" cy="781.3" rx="4" ry="2.2"/>
<polyline points="144,790 144,783"/>
<polyline points="150.5,790 150.5,783"/>
<polyline points="153.2,767.9 166.5,767.9 166.5,786 154.5,786"/>
<polyline points="166.5,777.2 187.8,778"/>
<circle cx="195.8" cy="787.4" r="1" fill="#000" stroke="none"/>
<circle cx="87.9" cy="829.2" r="1" fill="#000" stroke="none"/>
<circle cx="7.4" cy="721.3" r="1" fill="#000" stroke="none"/>
<!-- labels -->
</g><g stroke="#000" stroke-width="0.35">
<text class="jp" transform="translate(235.6,336) scale(0.66,1)" font-size="16" letter-spacing="4.3">キャブ</text>
<text class="lbl" transform="translate(241.6,352.8) scale(0.65,1)" font-size="17.4" letter-spacing="4.2">Cab</text>
<text class="jp" transform="translate(446.4,638.4) scale(0.66,1)" font-size="15.6" letter-spacing="4.0">レボルビングフレーム</text>
<text class="lbl" transform="translate(445.6,654.4) scale(0.65,1)" font-size="15.6" letter-spacing="3.85">Revolving Frame</text>
<text class="lbl" transform="translate(598.2,876.6) scale(0.85,1)" font-size="10.4" letter-spacing="6.1">00009563</text>
</g>
</svg>
</body></html>
